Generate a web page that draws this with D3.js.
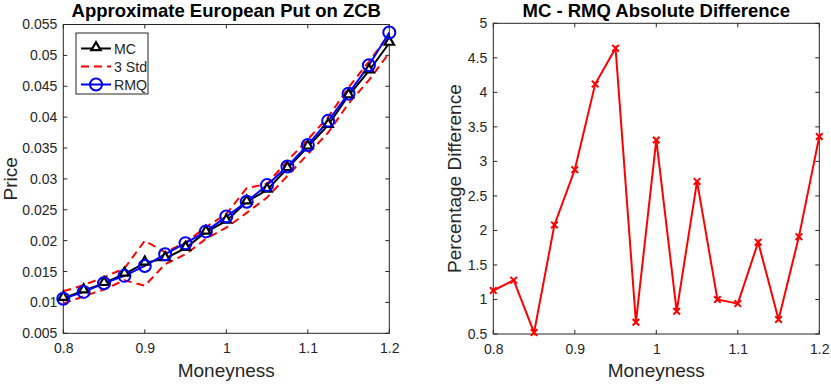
<!DOCTYPE html>
<html>
  <head>
    <script src="https://d3js.org/d3.v7.min.js"></script>
    <style>
      body { margin: 0; background: #fff; }
      text { font-family: "Liberation Sans", Arial, sans-serif; }
    </style>
  </head>
  <body>
    <svg width="831" height="385" id="chart"></svg>
    <script>
      // moneyness grid
      const moneyness = [0.8, 0.825, 0.85, 0.875, 0.9, 0.925, 0.95, 0.975, 1.0, 1.025, 1.05, 1.075, 1.1, 1.125, 1.15, 1.175, 1.2];
      const mcPrice = [0.0107, 0.0119, 0.0131, 0.0146, 0.0164, 0.0171, 0.0188, 0.0214, 0.0232, 0.0263, 0.0282, 0.0317, 0.0352, 0.0387, 0.0435, 0.0475, 0.0520];
      const rmqPrice = [0.0106, 0.0117, 0.0131, 0.0143, 0.0159, 0.0178, 0.0196, 0.0215, 0.0239, 0.0263, 0.0290, 0.0320, 0.0355, 0.0394, 0.0438, 0.0484, 0.0537];
      const stdUpper = [0.0118, 0.0128, 0.0141, 0.0155, 0.0200, 0.0181, 0.0197, 0.0222, 0.0243, 0.0285, 0.0292, 0.0329, 0.0364, 0.0400, 0.0448, 0.0490, 0.0534];
      const stdLower = [0.0098, 0.0110, 0.0121, 0.0136, 0.0127, 0.0162, 0.0178, 0.0203, 0.0221, 0.0245, 0.0270, 0.0305, 0.0340, 0.0375, 0.0422, 0.0460, 0.0504];
      const pctDiff = [1.13, 1.28, 0.52, 2.08, 2.88, 4.12, 4.64, 0.67, 3.31, 0.83, 2.71, 1.0, 0.94, 1.83, 0.71, 1.91, 3.36];

      const xTicks = [0.8, 0.9, 1.0, 1.1, 1.2];
      const priceTicks = [0.005, 0.01, 0.015, 0.02, 0.025, 0.03, 0.035, 0.04, 0.045, 0.05, 0.055];
      const pctTicks = [0.5, 1, 1.5, 2, 2.5, 3, 3.5, 4, 4.5, 5];

      const svg = d3.select("#chart");
      const axisColor = "#262626";

      function drawFrame(g, x, y, yTicks, title, ylabel, ylabelX) {
        const [x0, x1] = x.range();
        const [y0, y1] = y.range();
        g.append("rect")
          .attr("x", x0).attr("y", y1)
          .attr("width", x1 - x0).attr("height", y0 - y1)
          .attr("fill", "none").attr("stroke", axisColor).attr("stroke-width", 1);

        g.append("g").attr("transform", `translate(0,${y0})`)
          .call(d3.axisBottom(x).tickValues(xTicks).tickSize(0).tickPadding(10).tickFormat(d3.format("")))
          .call(a => a.select(".domain").remove());
        g.append("g").attr("transform", `translate(${x0},0)`)
          .call(d3.axisLeft(y).tickValues(yTicks).tickSize(0).tickPadding(6).tickFormat(d3.format("")))
          .call(a => a.select(".domain").remove());
        g.selectAll(".tick text").attr("fill", axisColor).style("font-size", "14px")
          .style("font-family", "Liberation Sans, Arial, sans-serif");

        // inner tick marks on all four sides
        xTicks.forEach(t => {
          g.append("line").attr("x1", x(t)).attr("x2", x(t)).attr("y1", y0).attr("y2", y0 - 4).attr("stroke", axisColor);
          g.append("line").attr("x1", x(t)).attr("x2", x(t)).attr("y1", y1).attr("y2", y1 + 4).attr("stroke", axisColor);
        });
        yTicks.forEach(t => {
          g.append("line").attr("x1", x0).attr("x2", x0 + 4).attr("y1", y(t)).attr("y2", y(t)).attr("stroke", axisColor);
          g.append("line").attr("x1", x1).attr("x2", x1 - 4).attr("y1", y(t)).attr("y2", y(t)).attr("stroke", axisColor);
        });

        g.append("text").attr("x", (x0 + x1) / 2).attr("y", 17)
          .attr("text-anchor", "middle").style("font-size", "18.5px").style("font-weight", "bold")
          .text(title);
        g.append("text").attr("x", (x0 + x1) / 2).attr("y", 377)
          .attr("text-anchor", "middle").style("font-size", "19px").attr("fill", axisColor)
          .text("Moneyness");
        g.append("text")
          .attr("transform", `translate(${ylabelX},${(y0 + y1) / 2}) rotate(-90)`)
          .attr("text-anchor", "middle").style("font-size", "19px").attr("fill", axisColor)
          .text(ylabel);
      }

      // left panel
      const xL = d3.scaleLinear().domain([0.8, 1.2]).range([63.3, 389.3]);
      const yL = d3.scaleLinear().domain([0.005, 0.055]).range([333.3, 24.5]);
      const left = svg.append("g");
      drawFrame(left, xL, yL, priceTicks, "Approximate European Put on ZCB", "Price", 17);

      const lineL = vals => d3.line().x((d, i) => xL(moneyness[i])).y(d => yL(d))(vals);

      [stdUpper, stdLower].forEach(band => {
        left.append("path").attr("d", lineL(band))
          .attr("fill", "none").attr("stroke", "#ff0000").attr("stroke-width", 2)
          .attr("stroke-dasharray", "8,5");
      });
      left.append("path").attr("d", lineL(mcPrice))
        .attr("fill", "none").attr("stroke", "#000").attr("stroke-width", 2);
      left.append("path").attr("d", lineL(rmqPrice))
        .attr("fill", "none").attr("stroke", "#0000ff").attr("stroke-width", 2);

      const tri = d3.symbol().type(d3.symbolTriangle).size(38);
      left.selectAll("path.mc").data(mcPrice).join("path")
        .attr("class", "mc")
        .attr("d", tri)
        .attr("transform", (d, i) => `translate(${xL(moneyness[i])},${yL(d) - 1})`)
        .attr("fill", "#fff").attr("stroke", "#000").attr("stroke-width", 2.2);
      left.selectAll("circle.rmq").data(rmqPrice).join("circle")
        .attr("class", "rmq")
        .attr("cx", (d, i) => xL(moneyness[i])).attr("cy", d => yL(d))
        .attr("r", 6)
        .attr("fill", "none").attr("stroke", "#0000ff").attr("stroke-width", 2);

      // legend
      const leg = left.append("g");
      leg.append("rect").attr("x", 76).attr("y", 33).attr("width", 72).attr("height", 61)
        .attr("fill", "#fff").attr("stroke", axisColor).attr("stroke-width", 1);
      const legItems = [
        { name: "MC", color: "#000", dash: null, marker: "tri" },
        { name: "3 Std", color: "#ff0000", dash: "8,5", marker: null },
        { name: "RMQ", color: "#0000ff", dash: null, marker: "circle" }
      ];
      legItems.forEach((it, i) => {
        const yy = 48.5 + i * 18;
        leg.append("line").attr("x1", 81).attr("x2", 111).attr("y1", yy).attr("y2", yy)
          .attr("stroke", it.color).attr("stroke-width", 2).attr("stroke-dasharray", it.dash);
        if (it.marker === "tri") {
          leg.append("path").attr("d", tri).attr("transform", `translate(96,${yy - 1})`)
            .attr("fill", "#fff").attr("stroke", "#000").attr("stroke-width", 2.2);
        } else if (it.marker === "circle") {
          leg.append("circle").attr("cx", 96).attr("cy", yy).attr("r", 6)
            .attr("fill", "none").attr("stroke", "#0000ff").attr("stroke-width", 2);
        }
        leg.append("text").attr("x", 114).attr("y", yy + 5)
          .style("font-size", "14.2px").attr("fill", axisColor).text(it.name);
      });

      // right panel
      const xR = d3.scaleLinear().domain([0.8, 1.2]).range([493.3, 819.3]);
      const yR = d3.scaleLinear().domain([0.5, 5]).range([334, 23.3]);
      const right = svg.append("g");
      drawFrame(right, xR, yR, pctTicks, "MC - RMQ Absolute Difference", "Percentage Difference", 461);

      right.append("path")
        .attr("d", d3.line().x((d, i) => xR(moneyness[i])).y(d => yR(d))(pctDiff))
        .attr("fill", "none").attr("stroke", "#ff0000").attr("stroke-width", 2);
      const cross = d3.symbol().type(d3.symbolX).size(30);
      right.selectAll("path.pd").data(pctDiff).join("path")
        .attr("class", "pd")
        .attr("d", cross)
        .attr("transform", (d, i) => `translate(${xR(moneyness[i])},${yR(d)})`)
        .attr("fill", "none").attr("stroke", "#ff0000").attr("stroke-width", 2);
    </script>
  </body>
</html>
